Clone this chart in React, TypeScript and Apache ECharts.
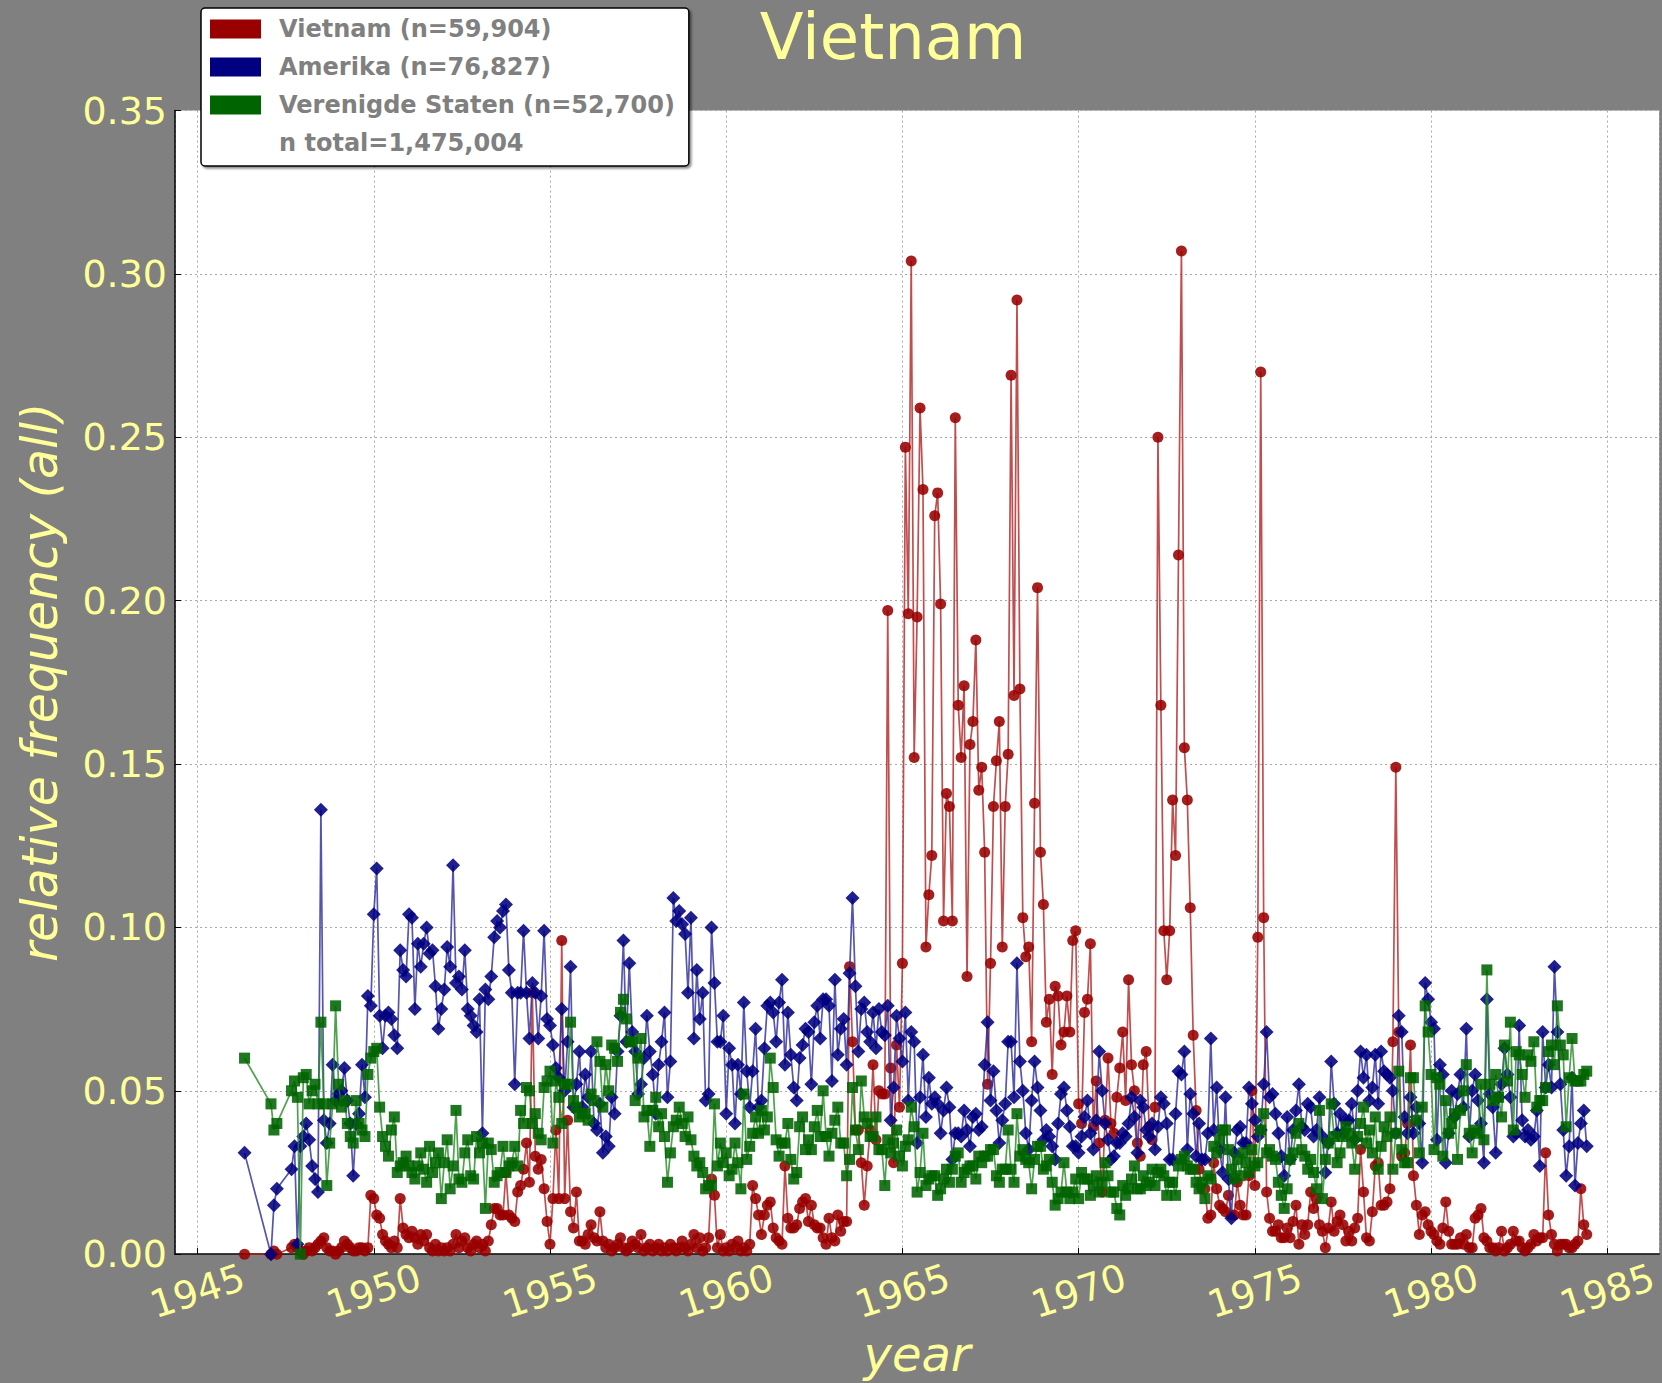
import React, { useEffect, useRef } from "react";
import * as echarts from "echarts";

// Monthly series, first value = May 1946, last value = June 1984 (null = month without data)
const START_YEAR = 1946;
const START_MONTH_INDEX = 4; // 0 = January

const TITLE = "Vietnam";
const X_NAME = "year";
const Y_NAME = "relative frequency (all)";
const SERIES_NAMES = ["Vietnam (n=59,904)", "Amerika (n=76,827)", "Verenigde Staten (n=52,700)"];
const TOTAL_LABEL = "n total=1,475,004";
const Y_TICKS_STEP = 0.05;

const vietnam: (number | null)[] = [
  0.000, null, null, null, null, null, null, null,
  null, 0.000, 0.001, 0.000, null, null, null, null, 0.002, 0.003, 0.002, 0.001,
  0.000, 0.001, 0.002, 0.001, 0.002, 0.003, 0.004, 0.005, 0.002, 0.001, 0.001, 0.000,
  0.001, 0.002, 0.004, 0.003, 0.002, 0.001, 0.001, 0.002, 0.002, 0.001, 0.002, 0.018,
  0.017, 0.012, 0.011, 0.006, 0.004, 0.003, 0.002, 0.004, 0.002, 0.017, 0.008, 0.006,
  0.005, 0.007, 0.005, 0.003, 0.006, 0.004, 0.006, 0.002, 0.001, 0.003, 0.001, 0.002,
  0.001, 0.002, 0.001, 0.003, 0.006, 0.002, 0.004, 0.005, 0.002, 0.001, 0.003, 0.004,
  0.002, 0.003, 0.001, 0.004, 0.009, 0.014, 0.014, 0.012, 0.012, 0.025, 0.012, 0.011,
  0.010, 0.019, 0.021, 0.026, 0.034, 0.022, 0.080, 0.030, 0.026, 0.029, 0.020, 0.010,
  0.003, 0.017, 0.038, 0.017, 0.096, 0.017, 0.041, 0.013, 0.008, 0.019, 0.004, 0.004,
  0.003, 0.006, 0.009, 0.005, 0.004, 0.013, 0.004, 0.002, 0.003, 0.001, 0.002, 0.003,
  0.005, 0.002, 0.001, 0.002, 0.004, 0.003, 0.002, 0.006, 0.001, 0.002, 0.003, 0.001,
  0.002, 0.003, 0.001, 0.002, 0.001, 0.003, 0.002, 0.001, 0.002, 0.004, 0.002, 0.001,
  0.003, 0.006, 0.002, 0.005, 0.001, 0.002, 0.005, 0.023, 0.018, 0.002, 0.006, 0.001,
  0.002, 0.001, 0.003, 0.002, 0.004, 0.001, 0.002, 0.001, 0.003, 0.021, 0.017, 0.012,
  0.006, 0.012, 0.015, 0.016, 0.008, 0.005, 0.004, 0.003, 0.027, 0.011, 0.008, 0.008,
  0.009, 0.014, 0.016, 0.017, 0.010, 0.015, 0.009, 0.008, 0.008, 0.005, 0.003, 0.011,
  0.005, 0.004, 0.012, 0.007, 0.010, 0.010, 0.088, 0.065, 0.038, 0.038, 0.028, 0.015,
  0.027, 0.038, 0.058, 0.035, 0.050, 0.049, 0.049, 0.197, 0.057, 0.028, 0.064, 0.045,
  0.089, 0.247, 0.196, 0.304, 0.152, 0.195, 0.259, 0.234, 0.094, 0.110, 0.122, 0.226,
  0.233, 0.199, 0.102, 0.141, 0.137, 0.102, 0.256, 0.168, 0.152, 0.174, 0.085, 0.156,
  0.163, 0.188, 0.142, 0.149, 0.123, 0.052, 0.089, 0.137, 0.151, 0.163, 0.094, 0.137,
  0.153, 0.269, 0.171, 0.292, 0.173, 0.103, 0.091, 0.094, 0.065, 0.138, 0.204, 0.123,
  0.107, 0.071, 0.078, 0.055, 0.082, 0.079, 0.064, 0.068, 0.079, 0.068, 0.096, 0.099,
  0.046, 0.040, 0.074, 0.078, 0.095, 0.039, 0.053, 0.034, 0.019, 0.041, 0.060, 0.040,
  0.037, 0.048, 0.057, 0.068, 0.047, 0.084, 0.058, 0.050, 0.034, 0.030, 0.058, 0.062,
  0.039, 0.035, 0.045, 0.250, 0.168, 0.099, 0.084, 0.099, 0.139, 0.122, 0.214, 0.307,
  0.155, 0.139, 0.106, 0.067, 0.044, 0.026, 0.020, 0.020, 0.011, 0.012, 0.028, 0.020,
  0.015, 0.014, 0.013, 0.018, 0.012, 0.012, 0.022, 0.015, 0.012, 0.012, 0.024, 0.050,
  0.021, 0.097, 0.270, 0.103, 0.019, 0.011, 0.007, 0.007, 0.009, 0.005, 0.005, 0.008,
  0.005, 0.010, 0.015, 0.003, 0.009, 0.006, 0.009, 0.019, 0.014, 0.017, 0.009, 0.007,
  0.002, 0.008, 0.016, 0.007, 0.010, 0.012, 0.009, 0.004, 0.007, 0.004, 0.008, 0.011,
  0.032, 0.019, 0.005, 0.004, 0.013, 0.027, 0.028, 0.015, 0.015, 0.016, 0.020, 0.065,
  0.149, 0.068, 0.030, 0.031, 0.040, 0.064, 0.024, 0.015, 0.006, 0.012, 0.013, 0.009,
  0.007, 0.006, 0.004, 0.003, 0.008, 0.016, 0.007, 0.003, 0.003, 0.003, 0.005, 0.003,
  0.006, 0.002, 0.002, 0.011, 0.012, 0.014, 0.005, 0.004, 0.002, 0.002, 0.001, 0.002,
  0.007, 0.001, 0.002, 0.003, 0.007, 0.004, 0.004, 0.002, 0.001, 0.002, 0.003, 0.006,
  0.004, 0.005, 0.005, 0.031, 0.012, 0.006, 0.003, 0.001, 0.003, 0.003, 0.003, 0.002,
  0.002, 0.003, 0.004, 0.020, 0.009, 0.006,
];

const amerika: (number | null)[] = [
  0.031, null, null, null, null, null, null, null,
  null, 0.000, 0.015, 0.020, null, null, null, null, 0.026, 0.033, 0.003, 0.033,
  0.036, 0.040, 0.035, 0.027, 0.023, 0.019, 0.136, 0.041, 0.034, 0.040, 0.058, 0.047,
  0.049, 0.050, 0.057, 0.047, 0.040, 0.024, 0.040, 0.043, 0.058, 0.048, 0.079, 0.076,
  0.104, 0.118, 0.073, 0.063, 0.073, 0.074, 0.072, 0.067, 0.063, 0.093, 0.087, 0.085,
  0.104, 0.103, 0.075, 0.095, 0.088, 0.095, 0.100, 0.092, 0.093, 0.082, 0.069, 0.075,
  0.081, 0.094, 0.088, 0.119, 0.083, 0.085, 0.081, 0.093, 0.075, 0.073, 0.070, 0.068,
  0.078, 0.037, 0.081, 0.078, 0.085, 0.097, 0.102, 0.100, 0.105, 0.107, 0.087, 0.080,
  0.052, 0.080, 0.080, 0.099, 0.080, 0.066, 0.083, 0.080, 0.066, 0.079, 0.099, 0.072,
  0.070, 0.064, 0.057, 0.054, 0.075, 0.050, 0.065, 0.088, 0.045, 0.052, 0.062, 0.045,
  0.055, 0.048, 0.062, 0.040, 0.038, 0.046, 0.031, 0.036, 0.033, 0.048, 0.043, 0.062,
  0.073, 0.096, 0.065, 0.089, 0.068, 0.062, 0.049, 0.052, 0.060, 0.073, 0.062, 0.055,
  0.043, 0.058, 0.065, 0.074, 0.048, 0.059, 0.109, 0.102, 0.105, 0.101, 0.098, 0.080,
  0.103, 0.066, 0.087, 0.072, 0.080, 0.047, 0.049, 0.100, 0.083, 0.065, 0.065, 0.073,
  0.043, 0.063, 0.058, 0.040, 0.058, 0.049, 0.077, 0.056, 0.045, 0.056, 0.069, 0.045,
  0.047, 0.063, 0.076, 0.077, 0.074, 0.065, 0.077, 0.084, 0.058, 0.074, 0.061, 0.051,
  0.047, 0.060, 0.064, 0.069, 0.068, 0.052, 0.071, 0.076, 0.066, 0.078, 0.078, 0.076,
  0.053, 0.084, 0.061, 0.069, 0.072, 0.058, 0.086, 0.109, 0.082, 0.062, 0.075, 0.077,
  0.068, 0.065, 0.074, 0.063, 0.075, 0.068, 0.067, 0.076, 0.041, 0.051, 0.073, 0.066,
  0.059, 0.074, 0.047, 0.068, 0.065, 0.034, 0.048, 0.061, 0.042, 0.054, 0.046, 0.048,
  0.046, 0.037, 0.044, 0.051, 0.045, 0.029, 0.037, 0.037, 0.036, 0.044, 0.038, 0.033,
  0.042, 0.043, 0.038, 0.039, 0.058, 0.071, 0.047, 0.056, 0.044, 0.034, 0.041, 0.046,
  0.065, 0.065, 0.048, 0.089, 0.059, 0.050, 0.037, 0.032, 0.047, 0.059, 0.051, 0.044,
  0.035, 0.038, 0.036, 0.033, 0.029, 0.040, 0.049, 0.051, 0.044, 0.039, 0.033, 0.033,
  0.031, 0.036, 0.042, 0.047, 0.037, 0.032, 0.041, 0.062, 0.050, 0.040, 0.035, 0.029,
  0.030, 0.034, 0.034, 0.037, 0.036, 0.040, 0.048, 0.042, 0.031, 0.047, 0.045, 0.038,
  0.036, 0.040, 0.032, 0.039, 0.048, 0.046, 0.040, 0.029, 0.029, 0.043, 0.056, 0.055,
  0.062, 0.032, 0.049, 0.043, 0.030, 0.040, 0.029, 0.029, 0.037, 0.066, 0.038, 0.051,
  0.032, 0.025, 0.048, 0.023, 0.011, 0.031, 0.038, 0.039, 0.034, 0.034, 0.051, 0.046,
  0.041, 0.036, 0.038, 0.052, 0.068, 0.048, 0.049, 0.043, 0.037, 0.030, 0.024, 0.042,
  0.029, 0.038, 0.044, 0.052, 0.039, 0.038, 0.046, 0.045, 0.036, 0.038, 0.048, 0.036,
  0.025, 0.034, 0.059, 0.046, 0.037, 0.043, 0.037, 0.041, 0.041, 0.046, 0.035, 0.050,
  0.062, 0.054, 0.061, 0.047, 0.051, 0.061, 0.046, 0.062, 0.056, 0.055, 0.054, 0.050,
  0.037, 0.073, 0.068, 0.042, 0.037, 0.048, 0.037, 0.045, 0.040, 0.028, 0.083, 0.078,
  0.071, 0.069, 0.035, 0.058, 0.055, 0.028, 0.037, 0.050, 0.042, 0.049, 0.055, 0.045,
  0.069, 0.036, 0.050, 0.055, 0.047, 0.040, 0.028, 0.078, 0.049, 0.045, 0.031, 0.048,
  0.052, 0.063, 0.055, 0.048, 0.036, 0.037, 0.070, 0.041, 0.036, 0.038, 0.035, 0.036,
  0.044, 0.027, 0.068, 0.051, 0.058, 0.051, 0.088, 0.068, 0.052, 0.038, 0.024, 0.033,
  0.054, 0.021, 0.034, 0.040, 0.044, 0.033,
];

const verenigdeStaten: (number | null)[] = [
  0.060, null, null, null, null, null, null, null,
  null, 0.046, 0.038, 0.040, null, null, null, null, 0.050, 0.053, 0.048, 0.000,
  0.054, 0.055, 0.046, 0.050, 0.052, 0.046, 0.071, 0.046, 0.021, 0.034, 0.046, 0.076,
  0.052, 0.045, 0.047, 0.040, 0.036, 0.034, 0.047, 0.040, 0.038, 0.036, 0.055, 0.060,
  0.062, 0.063, 0.045, 0.036, 0.033, 0.030, 0.038, 0.042, 0.025, 0.027, 0.028, 0.030,
  0.027, 0.025, 0.023, 0.027, 0.031, 0.026, 0.022, 0.033, 0.025, 0.028, 0.031, 0.017,
  0.028, 0.035, 0.020, 0.027, 0.044, 0.023, 0.022, 0.031, 0.035, 0.024, 0.023, 0.036,
  0.031, 0.034, 0.014, 0.034, 0.032, 0.022, 0.024, 0.025, 0.033, 0.025, 0.027, 0.028,
  0.033, 0.027, 0.044, 0.040, 0.051, 0.050, 0.040, 0.043, 0.037, 0.035, 0.051, 0.053,
  0.056, 0.034, 0.053, 0.048, 0.040, 0.052, 0.052, 0.071, 0.047, 0.045, 0.042, 0.043,
  0.043, 0.041, 0.049, 0.047, 0.065, 0.059, 0.045, 0.058, 0.050, 0.064, 0.063, 0.059,
  0.074, 0.078, 0.072, 0.065, 0.065, 0.047, 0.060, 0.066, 0.042, 0.044, 0.033, 0.044,
  0.048, 0.039, 0.043, 0.036, 0.022, 0.031, 0.039, 0.041, 0.045, 0.040, 0.036, 0.042,
  0.035, 0.030, 0.027, 0.028, 0.025, 0.020, 0.021, 0.021, 0.046, 0.027, 0.034, 0.028,
  0.031, 0.024, 0.026, 0.034, 0.028, 0.020, 0.049, 0.029, 0.033, 0.037, 0.042, 0.037,
  0.044, 0.038, 0.042, 0.060, 0.051, 0.035, 0.030, 0.034, 0.034, 0.040, 0.029, 0.023,
  0.025, 0.039, 0.042, 0.032, 0.035, 0.032, 0.039, 0.044, 0.036, 0.050, 0.036, 0.030,
  0.037, 0.041, 0.045, 0.034, 0.034, 0.024, 0.029, 0.051, 0.038, 0.032, 0.053, 0.042,
  0.040, 0.036, 0.036, 0.042, 0.032, 0.032, 0.021, 0.035, 0.031, 0.034, 0.038, 0.030,
  0.027, 0.033, 0.035, 0.045, 0.039, 0.019, 0.025, 0.037, 0.021, 0.023, 0.024, 0.024,
  0.018, 0.020, 0.023, 0.026, 0.022, 0.026, 0.030, 0.031, 0.022, 0.025, 0.026, 0.027,
  0.027, 0.023, 0.030, 0.028, 0.030, 0.030, 0.032, 0.032, 0.024, 0.022, 0.026, 0.026,
  0.038, 0.026, 0.022, 0.043, 0.030, 0.032, 0.029, 0.028, 0.020, 0.029, 0.033, 0.033,
  0.026, 0.027, 0.029, 0.022, 0.015, 0.017, 0.019, 0.028, 0.019, 0.017, 0.019, 0.023,
  0.017, 0.025, 0.023, 0.023, 0.018, 0.021, 0.024, 0.019, 0.022, 0.028, 0.024, 0.019,
  0.019, 0.014, 0.012, 0.021, 0.018, 0.020, 0.023, 0.027, 0.020, 0.020, 0.024, 0.021,
  0.022, 0.026, 0.021, 0.025, 0.026, 0.024, 0.018, 0.022, 0.022, 0.018, 0.027, 0.029,
  0.030, 0.027, 0.026, 0.026, 0.022, 0.020, 0.022, 0.017, 0.024, 0.023, 0.033, 0.031,
  0.035, 0.038, 0.038, 0.032, 0.026, 0.023, 0.029, 0.024, 0.031, 0.028, 0.025, 0.032,
  0.027, 0.028, 0.038, 0.043, 0.031, 0.032, 0.030, 0.029, 0.022, 0.018, 0.014, 0.020,
  0.029, 0.031, 0.037, 0.040, 0.032, 0.030, 0.026, 0.029, 0.025, 0.020, 0.044, 0.017,
  0.029, 0.034, 0.046, 0.036, 0.028, 0.031, 0.036, 0.039, 0.037, 0.034, 0.026, 0.036,
  0.040, 0.045, 0.034, 0.038, 0.031, 0.042, 0.026, 0.033, 0.039, 0.036, 0.042, 0.026,
  0.037, 0.056, 0.032, 0.028, 0.028, 0.054, 0.054, 0.041, 0.031, 0.045, 0.076, 0.068,
  0.055, 0.032, 0.054, 0.052, 0.030, 0.047, 0.037, 0.040, 0.043, 0.029, 0.044, 0.050,
  0.058, 0.037, 0.031, 0.038, 0.037, 0.052, 0.035, 0.087, 0.052, 0.047, 0.055, 0.048,
  0.042, 0.064, 0.053, 0.071, 0.038, 0.062, 0.061, 0.055, 0.048, 0.061, 0.059, 0.065,
  0.045, 0.047, 0.047, 0.051, 0.062, 0.064, 0.058, 0.076, 0.064, 0.061, 0.039, 0.054,
  0.066, 0.053, 0.053, 0.053, 0.055, 0.056,
];

const FONT = "DejaVu Sans";
const YELLOW = "#ffff99";

function toPoints(values: (number | null)[]) {
  const pts: [number, number][] = [];
  values.forEach((v, i) => {
    if (v !== null) pts.push([START_YEAR + (START_MONTH_INDEX + i) / 12, v]);
  });
  return pts;
}

export default function App() {
  const ref = useRef<HTMLDivElement>(null);

  useEffect(() => {
    if (!ref.current) return;
    const chart = echarts.init(ref.current, undefined, { renderer: "svg" });

    const styles = [
      { symbol: "circle", size: 11, marker: "#990000", line: "#b22222" },
      { symbol: "diamond", size: 14, marker: "#000080", line: "#2a2a9c" },
      { symbol: "rect", size: 11, marker: "#006400", line: "#228b22" },
    ];
    const dataSets = [vietnam, amerika, verenigdeStaten];

    const series: any[] = dataSets.map((vals, k) => ({
      type: "line",
      name: SERIES_NAMES[k],
      data: toPoints(vals),
      symbol: styles[k].symbol,
      symbolSize: styles[k].size,
      showSymbol: true,
      lineStyle: { color: styles[k].line, width: 1.7, opacity: 0.8 },
      itemStyle: { color: styles[k].marker, opacity: 0.88 },
      emphasis: { disabled: true },
      silent: true,
      z: 2 + k,
    }));
    series.push({ type: "line", name: TOTAL_LABEL, data: [], silent: true });

    chart.setOption({
      animation: false,
      backgroundColor: "#808080",
      title: {
        text: TITLE,
        left: 893,
        top: 5,
        textAlign: "center",
        padding: 0,
        textStyle: { color: YELLOW, fontSize: 64, lineHeight: 64, fontWeight: "normal", fontFamily: FONT },
      },
      legend: {
        orient: "vertical",
        left: 201,
        top: 8,
        padding: [8, 14, 10, 9],
        itemGap: 12,
        itemWidth: 51,
        itemHeight: 19,
        icon: "rect",
        selectedMode: false,
        backgroundColor: "#ffffff",
        borderColor: "#000000",
        borderWidth: 1.5,
        borderRadius: 4,
        shadowColor: "rgba(0,0,0,0.45)",
        shadowOffsetX: 2,
        shadowOffsetY: 2,
        shadowBlur: 2,
        textStyle: {
          color: "#808080",
          fontFamily: FONT,
          fontWeight: "bold",
          fontSize: 24,
          lineHeight: 26,
          padding: [0, 0, 0, 13],
        },
        data: [
          { name: SERIES_NAMES[0], itemStyle: { color: "#990000", opacity: 1 } },
          { name: SERIES_NAMES[1], itemStyle: { color: "#000080", opacity: 1 } },
          { name: SERIES_NAMES[2], itemStyle: { color: "#006400", opacity: 1 } },
          { name: TOTAL_LABEL, itemStyle: { color: "rgba(0,0,0,0)", opacity: 0 } },
        ],
      },
      grid: {
        left: 175,
        top: 110.6,
        right: 0,
        bottom: 119.7,
        show: true,
        backgroundColor: "#ffffff",
        borderWidth: 0,
      },
      xAxis: {
        type: "value",
        min: 1944.36,
        max: 1986.47,
        splitNumber: 8,
        minInterval: 5,
        maxInterval: 5,
        axisLine: { show: true, onZero: false, lineStyle: { color: "#000000", width: 1.5 } },
        axisTick: { show: true, inside: true, length: 6, lineStyle: { color: "#000000" } },
        axisLabel: {
          color: YELLOW,
          fontFamily: FONT,
          fontSize: 38,
          rotate: 18,
          margin: 37,
          align: "center",
          verticalAlign: "middle",
          showMinLabel: false,
          showMaxLabel: false,
          formatter: (v: number) => String(Math.round(v)),
        },
        splitLine: { show: true, lineStyle: { color: "#a8a8a8", width: 1, type: [2, 3] } },
        name: X_NAME,
        nameLocation: "middle",
        nameGap: 61,
        nameTextStyle: { color: YELLOW, fontFamily: FONT, fontSize: 48, fontStyle: "italic" },
      },
      yAxis: {
        type: "value",
        min: 0,
        max: 0.35,
        interval: Y_TICKS_STEP,
        axisLine: { show: true, onZero: false, lineStyle: { color: "#000000", width: 1.5 } },
        axisTick: { show: true, inside: true, length: 6, lineStyle: { color: "#000000" } },
        axisLabel: {
          color: YELLOW,
          fontFamily: FONT,
          fontSize: 38,
          margin: 8,
          formatter: (v: number) => v.toFixed(2),
        },
        splitLine: { show: true, lineStyle: { color: "#a8a8a8", width: 1, type: [2, 3] } },
        name: Y_NAME,
        nameLocation: "middle",
        nameGap: 110,
        nameTextStyle: { color: YELLOW, fontFamily: FONT, fontSize: 49, fontStyle: "italic" },
      },
      series,
    });

    return () => chart.dispose();
  }, []);

  return (
    <div
      ref={ref}
      style={{ position: "absolute", left: 0, top: 0, width: 1662, height: 1383 }}
    />
  );
}
